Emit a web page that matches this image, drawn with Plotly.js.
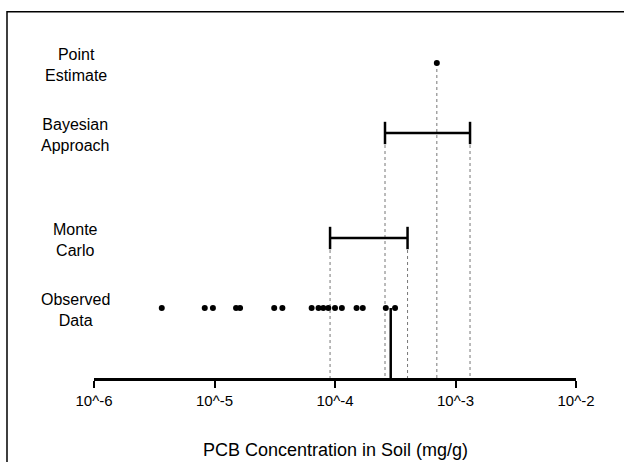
<!DOCTYPE html>
<html>
<head>
<meta charset="utf-8">
<script src="https://cdn.plot.ly/plotly-3.0.1.min.js"></script>
<style>html,body{margin:0;padding:0;background:#fff;}#chart{width:624px;height:462px;}</style>
</head>
<body>
<div id="chart"></div>
<script>
// Row labels and their vertical positions
const rowLabels = ["Point<br>Estimate", "Bayesian<br>Approach", "Monte<br>Carlo", "Observed<br>Data"];
const rowPos = [4.5, 3.5, 2, 1];

// Observed PCB concentrations (mg/g)
const observed = [3.65e-6, 8.3e-6, 9.7e-6, 1.51e-5, 1.63e-5, 3.13e-5, 3.66e-5, 6.4e-5, 7.3e-5,
                  8.0e-5, 8.8e-5, 1.0e-4, 1.14e-4, 1.51e-4, 1.70e-4, 2.64e-4, 3.15e-4];
const observedMarker = 2.9e-4;

// Estimates
const pointEstimate = 7.0e-4;
const bayesInterval = [2.6e-4, 1.32e-3];
const mcInterval = [9.1e-5, 4.0e-4];

// Axis ticks
const tickVals = [1e-6, 1e-5, 1e-4, 1e-3, 1e-2];
const tickText = ["10^-6", "10^-5", "10^-4", "10^-3", "10^-2"];
const xTitle = "PCB Concentration in Soil (mg/g)";

const FONT = "Liberation Sans, Arial, Helvetica, sans-serif";
const traces = [];

function dotted(x, y) {
  traces.push({x: [x, x], y: [y, 0], mode: "lines", type: "scatter",
    line: {color: "#777", width: 1, dash: "dot"}, hoverinfo: "skip", showlegend: false});
}
dotted(pointEstimate, rowPos[0]);
dotted(bayesInterval[0], rowPos[1]);
dotted(bayesInterval[1], rowPos[1]);
dotted(mcInterval[0], rowPos[2]);
dotted(mcInterval[1], rowPos[2]);

// intervals
[[bayesInterval, rowPos[1]], [mcInterval, rowPos[2]]].forEach(([iv, y]) => {
  traces.push({x: iv, y: [y, y], mode: "lines+markers", type: "scatter",
    line: {color: "#000", width: 2.5},
    marker: {symbol: "line-ns", size: 16, line: {color: "#000", width: 2.5}},
    showlegend: false});
});

// point estimate
traces.push({x: [pointEstimate], y: [rowPos[0]], mode: "markers", type: "scatter",
  marker: {symbol: "circle", size: 6, color: "#000"}, showlegend: false});

// observed marker line
traces.push({x: [observedMarker, observedMarker], y: [rowPos[3], 0], mode: "lines", type: "scatter",
  line: {color: "#000", width: 2.5}, showlegend: false});

// observed data
traces.push({x: observed, y: observed.map(() => rowPos[3]), mode: "markers", type: "scatter",
  marker: {symbol: "circle", size: 6, color: "#000"}, showlegend: false});

const annotations = rowLabels.map((t, i) => ({
  text: t, xref: "paper", yref: "y", x: -0.038, y: rowPos[i], yshift: -2,
  xanchor: "center", yanchor: "middle", showarrow: false, align: "center",
  font: {family: FONT, size: 16, color: "#000"}
}));
annotations.push({text: xTitle, xref: "paper", yref: "paper", x: 0.5, y: -0.205,
  xanchor: "center", yanchor: "middle", showarrow: false,
  font: {family: FONT, size: 18, color: "#000"}});

const layout = {
  width: 624, height: 462,
  margin: {l: 94, r: 48, t: 28, b: 84},
  paper_bgcolor: "#fff", plot_bgcolor: "#fff",
  showlegend: false,
  font: {family: FONT, color: "#000"},
  xaxis: {type: "log", range: [-6, -2], tickvals: tickVals, ticktext: tickText,
    ticks: "outside", ticklen: 7, tickwidth: 2, tickcolor: "#000",
    showline: true, linewidth: 2.5, linecolor: "#000", showgrid: false, zeroline: false,
    tickfont: {family: FONT, size: 15, color: "#000"}, fixedrange: true},
  yaxis: {visible: false, range: [0, 5], fixedrange: true},
  annotations: annotations,
  shapes: [{type: "rect", xref: "paper", yref: "paper",
    x0: -0.1805, x1: 1.3, y0: -0.35, y1: 1.0466,
    line: {color: "#000", width: 1.5}, fillcolor: "rgba(0,0,0,0)"}]
};

Plotly.newPlot("chart", traces, layout, {displayModeBar: false, staticPlot: true});
</script>
</body>
</html>
